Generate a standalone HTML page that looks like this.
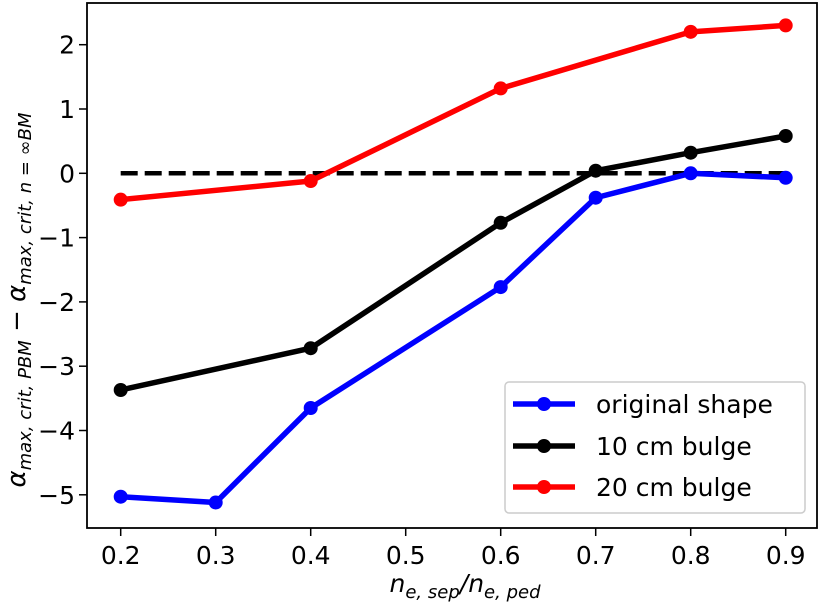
<!DOCTYPE html>
<html><head><meta charset="utf-8"><style>
body{margin:0;background:#fff;}
svg text{font-family:"DejaVu Sans","Liberation Sans",sans-serif;fill:#000;}
</style></head><body>
<svg id="chart" width="820" height="607" xmlns="http://www.w3.org/2000/svg">
<g id="plot"></g>
</svg>
<script>
const xCats=[0.2,0.3,0.4,0.5,0.6,0.7,0.8,0.9];
const xTickLabels=["0.2","0.3","0.4","0.5","0.6","0.7","0.8","0.9"];
const yTicks=[-5,-4,-3,-2,-1,0,1,2];
const yTickLabels=["\u22125","\u22124","\u22123","\u22122","\u22121","0","1","2"];
const blueX=[0.2,0.3,0.4,0.6,0.7,0.8,0.9];
const blueY=[-5.03,-5.12,-3.65,-1.77,-0.38,0.0,-0.07];
const blackX=[0.2,0.4,0.6,0.7,0.8,0.9];
const blackY=[-3.37,-2.72,-0.77,0.04,0.32,0.58];
const redX=[0.2,0.4,0.6,0.8,0.9];
const redY=[-0.41,-0.12,1.32,2.2,2.3];
const refLine=[0.2,0.9];
const NS="http://www.w3.org/2000/svg";
const g=document.getElementById('plot');
const L=87,R=817,T=3,B=528;
function sx(v){return 120.7+(v-0.2)*950;}
function sy(v){return 173.3-v*64.3;}
function mk(t,a){const e=document.createElementNS(NS,t);for(const k in a)e.setAttribute(k,a[k]);g.appendChild(e);return e;}
let d=mk('line',{x1:sx(refLine[0]),x2:sx(refLine[1]),y1:sy(0),y2:sy(0),stroke:'#000','stroke-width':4.5,'stroke-dasharray':'17,7'});


function series(xs,ys,col,name){
 const p=mk('polyline',{points:xs.map((x,i)=>sx(x)+','+sy(ys[i])).join(' '),fill:'none',stroke:col,'stroke-width':5.5,'stroke-linejoin':'round'});
 
 
 xs.forEach((x,i)=>{const c=mk('circle',{cx:sx(x),cy:sy(ys[i]),r:7,fill:col});
  
  });
}
series(blueX,blueY,'#0000ff','original-shape');
series(blackX,blackY,'#000000','bulge-10cm');
series(redX,redY,'#ff0000','bulge-20cm');
const fr=mk('rect',{x:L,y:T,width:R-L,height:B-T,fill:'none',stroke:'#000','stroke-width':1.8});


xCats.forEach((v,i)=>{
 const t=mk('line',{x1:sx(v),x2:sx(v),y1:B,y2:B+8,stroke:'#000','stroke-width':1.5});
 
 
 const tx=mk('text',{x:sx(v),y:B+36,'font-size':25,'text-anchor':'middle'});tx.textContent=xTickLabels[i];
 
 
});
yTicks.forEach((v,i)=>{
 const t=mk('line',{x1:L-8,x2:L,y1:sy(v),y2:sy(v),stroke:'#000','stroke-width':1.5});
 
 
 const tx=mk('text',{x:L-12,y:sy(v)+9,'font-size':25,'text-anchor':'end'});tx.textContent=yTickLabels[i];
 
 
});
</script>
<svg style="position:absolute;left:0;top:0" width="820" height="607" xmlns="http://www.w3.org/2000/svg">
<g>
<rect x="505" y="382" width="300" height="131" rx="4" fill="#fff" fill-opacity="0.8" stroke="#ccc" stroke-width="1.5"/>
<line x1="513" x2="575" y1="404" y2="404" stroke="#0000ff" stroke-width="5.5"/><circle cx="544" cy="404" r="7" fill="#0000ff"/>
<text x="596" y="413" font-size="25">original shape</text>
<line x1="513" x2="575" y1="446" y2="446" stroke="#000" stroke-width="5.5"/><circle cx="544" cy="446" r="7" fill="#000"/>
<text x="596" y="455" font-size="25">10 cm bulge</text>
<line x1="513" x2="575" y1="487" y2="487" stroke="#ff0000" stroke-width="5.5"/><circle cx="544" cy="487" r="7" fill="#ff0000"/>
<text x="596" y="496" font-size="25">20 cm bulge</text>
</g>
<text x="465" y="592" font-size="25" text-anchor="middle" font-style="italic">n<tspan font-size="18" dy="6">e, sep</tspan><tspan dy="-6">/n</tspan><tspan font-size="18" dy="6">e, ped</tspan></text>
<text transform="translate(25,300) rotate(-90)" font-size="26" text-anchor="middle" font-style="italic">α<tspan font-size="18" dy="6">max, crit, PBM</tspan><tspan dy="-6" font-style="normal"> − </tspan>α<tspan font-size="18" dy="6">max, crit, n = ∞BM</tspan></text>
</svg>
</body></html>
